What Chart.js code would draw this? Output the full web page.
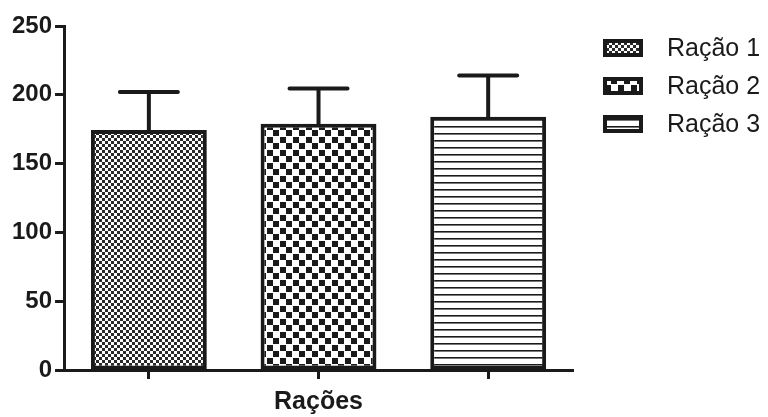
<!DOCTYPE html>
<html>
<head>
<meta charset="utf-8">
<script src="https://cdn.jsdelivr.net/npm/chart.js@4.4.1/dist/chart.umd.min.js"></script>
<style>
  html, body { margin: 0; padding: 0; background: #fff; }
  #wrap { width: 768px; height: 417px; }
</style>
</head>
<body>
<div id="wrap"><canvas id="racoesChart"></canvas></div>
<script>
const categories = ['Ração 1', 'Ração 2', 'Ração 3'];
const means = [174.5, 179, 184];
const sdValues = [27.5, 25.5, 30];
const yTicks = [0, 50, 100, 150, 200, 250];
const axisTitle = 'Rações';

const ink = '#1a1a1a';

// small canvas tiles used as bar fills
function makePattern(kind) {
  const c = document.createElement('canvas');
  const g = c.getContext('2d');
  if (kind === 'fine') {
    c.width = 6; c.height = 6;
    g.fillStyle = '#fff'; g.fillRect(0, 0, 6, 6);
    g.fillStyle = '#2a2a2a';
    g.fillRect(0, 0, 3, 3);
    g.fillRect(3, 3, 3, 3);
  } else if (kind === 'coarse') {
    c.width = 13; c.height = 13;
    g.fillStyle = '#fff'; g.fillRect(0, 0, 13, 13);
    g.fillStyle = ink;
    g.fillRect(0, 0, 6, 6);
    g.fillRect(7, 7, 6, 6);
  } else {
    c.width = 8; c.height = 7;
    g.fillStyle = '#fff'; g.fillRect(0, 0, 8, 7);
    g.fillStyle = ink; g.fillRect(0, 0, 8, 1);
    g.fillStyle = '#777'; g.fillRect(0, 1, 8, 1);
  }
  return g.createPattern(c, 'repeat');
}

const fills = [makePattern('fine'), makePattern('coarse'), makePattern('lines')];

// upper error bars (mean + SD)
const errorBars = {
  id: 'errorBars',
  afterDatasetsDraw(chart) {
    const meta = chart.getDatasetMeta(0);
    const y = chart.scales.y;
    const ctx = chart.ctx;
    ctx.save();
    ctx.strokeStyle = ink;
    ctx.lineWidth = 4;
    ctx.lineCap = 'round';
    meta.data.forEach((bar, i) => {
      const top = y.getPixelForValue(means[i] + sdValues[i]);
      ctx.beginPath();
      ctx.moveTo(bar.x, bar.y);
      ctx.lineTo(bar.x, top);
      ctx.moveTo(bar.x - 29, top);
      ctx.lineTo(bar.x + 29, top);
      ctx.stroke();
    });
    ctx.restore();
  }
};

// legend on the right, drawn by hand so the box/text gap matches
const sideLegend = {
  id: 'sideLegend',
  afterDraw(chart) {
    const ctx = chart.ctx;
    ctx.save();
    categories.forEach((name, i) => {
      const cy = 48 + i * 38;
      ctx.fillStyle = fills[i];
      ctx.fillRect(603, cy - 9, 40, 18);
      ctx.strokeStyle = ink;
      ctx.lineWidth = 4;
      ctx.strokeRect(605, cy - 7, 36, 14);
      ctx.fillStyle = ink;
      ctx.font = '25px "Liberation Sans", Arial, sans-serif';
      ctx.textBaseline = 'middle';
      ctx.fillText(name, 667, cy + 1);
    });
    ctx.restore();
  }
};

const ctx = document.getElementById('racoesChart').getContext('2d');
new Chart(ctx, {
  type: 'bar',
  data: {
    labels: categories,
    datasets: [{
      data: means,
      backgroundColor: fills,
      borderColor: ink,
      borderWidth: 4,
      borderSkipped: false,
      categoryPercentage: 1,
      barPercentage: 0.683
    }]
  },
  options: {
    responsive: true,
    maintainAspectRatio: false,
    animation: false,
    layout: { padding: { left: 9, right: 195, top: 26, bottom: 0 } },
    plugins: {
      legend: { display: false },
      tooltip: { enabled: false }
    },
    scales: {
      x: {
        grid: {
          offset: false,
          drawOnChartArea: false,
          drawTicks: true,
          tickLength: 9,
          tickWidth: 3,
          tickColor: ink
        },
        border: { display: true, color: ink, width: 3 },
        ticks: { display: false },
        title: {
          display: true,
          text: axisTitle,
          color: ink,
          font: { family: '"Liberation Sans", Arial, sans-serif', size: 25, weight: 'bold' },
          padding: { top: 8, bottom: 0 }
        }
      },
      y: {
        min: yTicks[0],
        max: yTicks[yTicks.length - 1],
        afterBuildTicks(axis) {
          axis.ticks = yTicks.map(v => ({ value: v }));
        },
        grid: {
          drawOnChartArea: false,
          drawTicks: true,
          tickLength: 9,
          tickWidth: 3,
          tickColor: ink
        },
        border: { display: true, color: ink, width: 3 },
        ticks: {
          color: ink,
          padding: 3,
          font: { family: '"Liberation Sans", Arial, sans-serif', size: 24, weight: 'bold' }
        }
      }
    }
  },
  plugins: [errorBars, sideLegend]
});
</script>
</body>
</html>
